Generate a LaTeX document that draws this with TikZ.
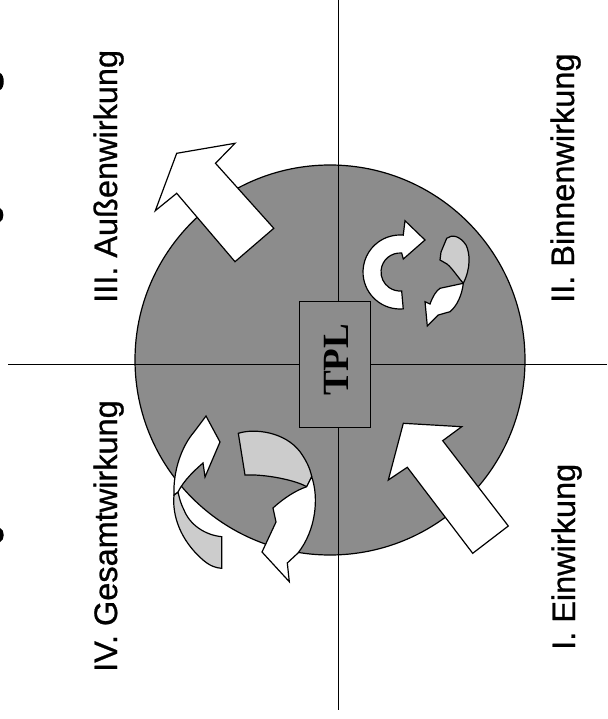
\documentclass[tikz,border=0pt]{standalone}
\usepackage{fontspec}
\setmainfont{Liberation Sans}
\newfontfamily\lblfont[FakeBold=0.8]{Liberation Sans}
\newfontfamily\tplfont{Liberation Serif}
\definecolor{darkpat}{gray}{0.55}
\definecolor{lightpat}{gray}{0.80}
\begin{document}
\begin{tikzpicture}[x=1pt,y=-1pt,
  outl/.style={draw=black,line width=1.2pt,line join=miter},
  wht/.style={outl,fill=white},
  lgt/.style={outl,fill=lightpat},
  lbl/.style={font=\lblfont\fontsize{32.5}{36}\selectfont,rotate=90,anchor=base west,inner sep=0pt},
  axisline/.style={draw=black,line width=0.9pt}]
\useasboundingbox (0,0) rectangle (607,719);
% circle
\path[fill=darkpat,draw=black,line width=1.2pt] (330,360) circle[radius=195];
% axes
\coordinate (vt) at (338,0);
\coordinate (vb) at (338,710);
\coordinate (hl) at (8,364);
\coordinate (hr) at (607,364);
\draw[axisline] (vt) -- (vb);
\draw[axisline] (hl) -- (hr);
% TPL box
\node[draw=black,line width=1.2pt,fill=darkpat,minimum width=71,minimum height=126,inner sep=0,anchor=north west] (tplbox) at (299,301) {};
\node[font=\tplfont\bfseries\fontsize{37}{40}\selectfont,rotate=90,anchor=base,inner sep=0] (tpl) at (348.3,360) {TPL};
% III arrow (out)
\path[wht] (176.7,153.3) -- (235,143.3) -- (215.5,163.3) -- (273.8,228.3) -- (235,261.7) -- (176.7,193.3) -- (155.3,210.7) -- cycle;
% I arrow (in)
\path[wht] (403.3,423.3) -- (461.7,426.7) -- (442.7,440.7) -- (508.3,526) -- (472.7,553.3) -- (407.3,467.3) -- (388.3,480) -- cycle;
% II arrows
\path[wht] (403.23,308.86) arc[start angle=85,end angle=275,radius=37] -- (405,220.7) -- (425,240) -- (403.3,259) -- (401.66,253.07) arc[start angle=275,end angle=85,radius=19] -- cycle;
\path[lgt] (446.7,238.3) .. controls (452,234) and (460,236) .. (466,245) .. controls (470,253) and (471,268) .. (463.3,283.3) .. controls (457,276) and (452,268) .. (447,264) -- (440,260) -- (441,252) -- cycle;
\path[wht] (463.3,283.3) .. controls (462,295) and (457,306) .. (450,311.7) -- (438.3,315) -- (427.3,326) -- (425,301.7) -- (430,304) .. controls (433,296) and (436,291) .. (440,288.3) -- cycle;
% IV arrows
\path[lgt] (174,495) .. controls (172,515) and (180,540) .. (203,560) .. controls (210,566) and (216,568) .. (221.7,568.3) -- (221.7,536.7) .. controls (205,535) and (190,525) .. (184,510) .. controls (180,502) and (179,496) .. (178,492) -- cycle;
\path[wht] (174,495) .. controls (173,470) and (182,446) .. (194,432) -- (206,416) -- (220,442) -- (205,477) -- (203,463) .. controls (195,470) and (184,480) .. (178,492) -- cycle;
\path[lgt] (238.3,433.3) .. controls (255,428) and (285,432) .. (300,451.7) .. controls (306,460) and (310,468) .. (311.7,476.7) -- (306.7,486.7) .. controls (295,480) and (265,474) .. (245,475) -- cycle;
\path[wht] (311.7,476.7) .. controls (319,498) and (316,530) .. (298,553) -- (287.3,563) -- (289.3,581.7) -- (262,552) -- (276,522) -- (273,508) .. controls (285,497) and (297,490) .. (306.7,486.7) -- cycle;
% labels
\node[lbl] (l3) at (117,303) {III. Außenwirkung};
\node[lbl] (l2) at (574,303) {II. Binnenwirkung};
\node[lbl] (l4) at (117,672) {IV. Gesamtwirkung};
\node[lbl] (l1) at (575,650) {I. Einwirkung};
% cut-off glyph fragments at the left edge
\fill (0,73) .. controls (5,75) and (5,88) .. (0,90) -- cycle;
\fill (0,208) .. controls (4.5,210) and (4.5,220) .. (0,222) -- cycle;
\fill (0,528) .. controls (5,530) and (5,540) .. (0,542) -- cycle;
\end{tikzpicture}
\end{document}
